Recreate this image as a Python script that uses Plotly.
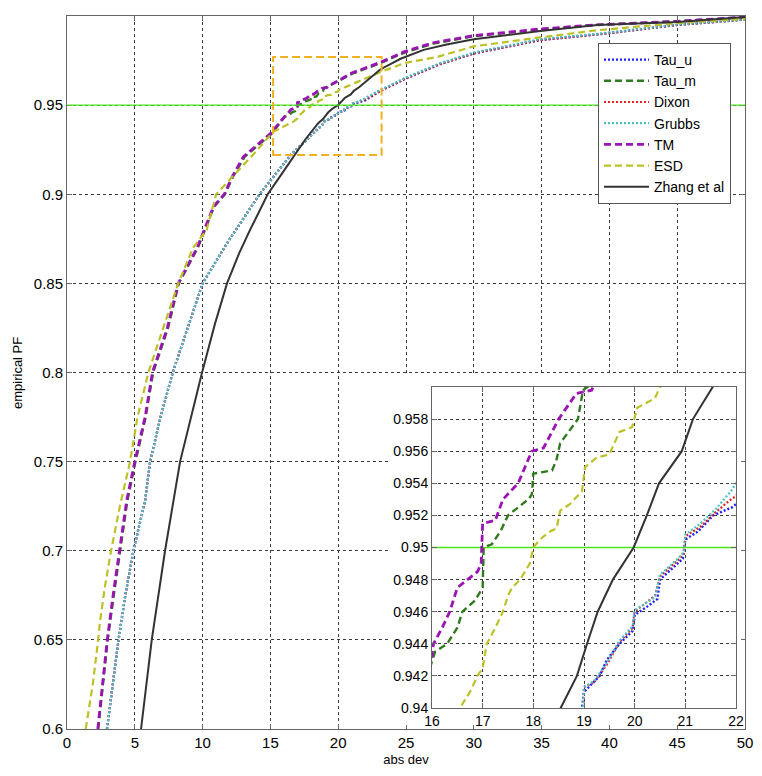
import plotly.graph_objects as go

# ---------------- data ----------------
tau_u_x = [2.95, 3.3, 3.8, 4.3, 4.9, 5.2, 5.76, 6.13, 6.9, 7.8, 9.1, 10.0, 11.8, 14.2, 16.5,
           18.96, 19.0, 19.31, 19.45, 19.7, 19.96, 20.0, 20.24, 20.45, 20.5, 20.85, 20.95, 21.0,
           21.25, 21.55, 21.92, 22.0, 23.1, 25.0, 27.5, 30.0, 34.9, 39.5, 45.0, 50.0]
tau_u_y = [0.600, 0.620, 0.650, 0.675, 0.700, 0.710, 0.728, 0.750, 0.775, 0.800, 0.830, 0.850, 0.8725, 0.900, 0.922,
           0.940, 0.941, 0.942, 0.943, 0.944, 0.9448, 0.9458, 0.9463, 0.9468, 0.948, 0.949, 0.9493, 0.9505,
           0.951, 0.952, 0.9525, 0.9527, 0.958, 0.965, 0.973, 0.979, 0.9865, 0.990, 0.995, 0.998]

dixon_x = [2.95, 3.3, 3.8, 4.3, 4.9, 5.2, 5.76, 6.13, 6.9, 7.8, 9.1, 10.0, 11.8, 14.2, 16.5,
           18.98, 19.0, 19.2, 19.45, 19.7, 19.96, 20.0, 20.4, 20.5, 20.85, 20.97, 21.0,
           21.3, 21.6, 21.9, 22.0, 23.1, 25.0, 27.5, 30.0, 34.9, 39.5, 45.0, 50.0]
dixon_y = [0.600, 0.620, 0.650, 0.675, 0.700, 0.710, 0.728, 0.750, 0.775, 0.800, 0.830, 0.850, 0.8725, 0.900, 0.922,
           0.940, 0.9413, 0.9416, 0.9427, 0.9441, 0.945, 0.946, 0.947, 0.9482, 0.9492, 0.9496, 0.9507,
           0.9513, 0.9522, 0.953, 0.9532, 0.958, 0.965, 0.973, 0.979, 0.9865, 0.990, 0.995, 0.998]

grubbs_x = [2.95, 3.3, 3.8, 4.3, 4.9, 5.2, 5.76, 6.13, 6.9, 7.8, 9.1, 10.0, 11.8, 14.2, 16.5,
            18.98, 19.0, 19.2, 19.45, 19.7, 19.96, 20.0, 20.4, 20.5, 20.85, 20.97, 21.0,
            21.3, 21.6, 21.9, 22.0, 23.1, 25.0, 27.5, 30.0, 34.9, 39.5, 45.0, 50.0]
grubbs_y = [0.600, 0.620, 0.650, 0.675, 0.700, 0.710, 0.728, 0.750, 0.775, 0.800, 0.830, 0.850, 0.8725, 0.900, 0.922,
            0.940, 0.9413, 0.9417, 0.9428, 0.9442, 0.9451, 0.9461, 0.9469, 0.9483, 0.9493, 0.9497, 0.9508,
            0.9515, 0.9524, 0.9535, 0.954, 0.9585, 0.9655, 0.9735, 0.9795, 0.987, 0.9903, 0.9952, 0.998]

tau_m_x = [2.3, 2.63, 3.0, 3.45, 3.9, 4.45, 5.05, 5.8, 6.35, 7.45, 8.25, 9.65, 10.85, 11.65, 12.25, 13.1, 15.1,
           16.06, 16.3, 16.5, 16.6, 16.85, 17.0, 17.02, 17.18, 17.35, 17.5, 17.9, 17.97, 18.0, 18.37,
           18.46, 18.53, 18.88, 18.98, 19.2, 21.0, 23.1, 24.9, 27.0, 30.0, 34.9, 39.0, 45.0, 50.0]
tau_m_y = [0.600, 0.625, 0.650, 0.675, 0.700, 0.728, 0.750, 0.775, 0.800, 0.825, 0.850, 0.870, 0.893, 0.900, 0.910, 0.921, 0.934,
           0.9435, 0.944, 0.945, 0.946, 0.9467, 0.9475, 0.950, 0.9502, 0.951, 0.952, 0.953, 0.9533, 0.9546, 0.9548,
           0.9555, 0.9565, 0.958, 0.9598, 0.9603, 0.9675, 0.9735, 0.9795, 0.9845, 0.9887, 0.9925, 0.995, 0.997, 0.9993]

tm_x = [2.27, 2.6, 2.97, 3.4, 3.85, 4.4, 5.0, 5.76, 6.3, 7.4, 8.2, 9.6, 10.8, 11.6, 12.2, 13.0, 15.0,
        16.0, 16.03, 16.2, 16.35, 16.5, 16.7, 16.9, 16.97, 17.0, 17.25, 17.4, 17.7, 17.97, 18.2, 18.5,
        18.85, 19.15, 19.25, 21.0, 23.1, 24.9, 27.0, 30.0, 34.9, 39.0, 45.0, 50.0]
tm_y = [0.600, 0.625, 0.650, 0.675, 0.700, 0.728, 0.750, 0.775, 0.800, 0.825, 0.850, 0.870, 0.893, 0.900, 0.910, 0.921, 0.934,
        0.9433, 0.944, 0.945, 0.946, 0.9475, 0.948, 0.9485, 0.949, 0.9515, 0.9517, 0.953, 0.954, 0.956, 0.9562, 0.958,
        0.9596, 0.9598, 0.9605, 0.968, 0.974, 0.980, 0.985, 0.989, 0.9927, 0.995, 0.997, 0.9994]

esd_x = [1.38, 1.9, 2.3, 2.43, 2.8, 3.25, 3.9, 4.65, 5.2, 6.0, 7.1, 8.2, 9.3, 10.3, 11.0, 13.7, 15.2,
         16.55, 16.75, 16.9, 17.0, 17.08, 17.25, 17.4, 17.5, 17.58, 17.74, 17.93, 18.0, 18.13, 18.33,
         18.46, 18.53, 18.72, 18.96, 19.02, 19.25, 19.5, 19.7, 19.95, 20.05, 20.4, 20.5,
         23.1, 24.9, 27.3, 30.0, 34.9, 39.1, 45.0, 50.0]
esd_y = [0.600, 0.625, 0.650, 0.660, 0.680, 0.700, 0.725, 0.750, 0.775, 0.800, 0.825, 0.850, 0.870, 0.880, 0.900, 0.922, 0.935,
         0.940, 0.941, 0.942, 0.9425, 0.944, 0.945, 0.946, 0.947, 0.9475, 0.948, 0.949, 0.950, 0.9505, 0.951,
         0.9512, 0.9523, 0.9527, 0.9535, 0.955, 0.9556, 0.9558, 0.9572, 0.9575, 0.9587, 0.9593, 0.960,
         0.9685, 0.9736, 0.977, 0.983, 0.988, 0.992, 0.996, 0.9985]

zhang_x = [5.46, 6.25, 7.23, 8.34, 9.96, 10.9, 11.8, 12.7, 13.5, 14.8, 15.8, 16.7, 17.6, 18.54, 18.86, 19.06,
           19.27, 19.57, 19.98, 20.24, 20.48, 20.93, 21.15, 21.54, 23.1, 24.6, 26.3, 28.0, 30.0, 34.9,
           39.1, 45.0, 50.0]
zhang_y = [0.600, 0.650, 0.700, 0.750, 0.800, 0.827, 0.850, 0.867, 0.880, 0.900, 0.911, 0.921, 0.931, 0.940, 0.942, 0.944,
           0.946, 0.948, 0.950, 0.952, 0.954, 0.956, 0.958, 0.960, 0.970, 0.976, 0.981, 0.984, 0.987, 0.9916,
           0.995, 0.9966, 0.9994]

series_names = ["Tau_u", "Tau_m", "Dixon", "Grubbs", "TM", "ESD", "Zhang et al"]

main_xticks = [0, 5, 10, 15, 20, 25, 30, 35, 40, 45, 50]
main_yticks = [0.6, 0.65, 0.7, 0.75, 0.8, 0.85, 0.9, 0.95, 1.0]
main_ytext = ["0.6", "0.65", "0.7", "0.75", "0.8", "0.85", "0.9", "0.95", "1"]
inset_xticks = [16, 17, 18, 19, 20, 21, 22]
inset_yticks = [0.94, 0.942, 0.944, 0.946, 0.948, 0.95, 0.952, 0.954, 0.956, 0.958]
inset_ytext = ["0.94", "0.942", "0.944", "0.946", "0.948", "0.95", "0.952", "0.954", "0.956", "0.958"]

threshold = 0.95
zoom_box = dict(x0=15.2, x1=23.2, y0=0.922, y1=0.977)

# ---------------- styles ----------------
styles = [
    dict(color="#1f1fff", dash="2px,2px", width=2.4),
    dict(color="#2f7a1c", dash="7px,4px", width=2.4),
    dict(color="#e32222", dash="2px,2px", width=2.2),
    dict(color="#45c4c4", dash="2px,2px", width=2.2),
    dict(color="#9b12b5", dash="7px,4px", width=2.8),
    dict(color="#bcc226", dash="7px,4px", width=2.2),
    dict(color="#333333", dash="solid", width=2.0),
]
series = [(tau_u_x, tau_u_y), (tau_m_x, tau_m_y), (dixon_x, dixon_y), (grubbs_x, grubbs_y),
          (tm_x, tm_y), (esd_x, esd_y), (zhang_x, zhang_y)]

FONT = "Arial, Liberation Sans, sans-serif"
GREEN = "#4fe51e"
fig = go.Figure()

for name, (xs, ys), st in zip(series_names, series, styles):
    fig.add_trace(go.Scatter(x=xs, y=ys, mode="lines", name=name, xaxis="x", yaxis="y",
                             line=dict(color=st["color"], dash=st["dash"], width=st["width"]),
                             hoverinfo="skip"))

# white backing panel under the inset (covers main grid)
fig.add_trace(go.Scatter(x=[0, 1, 1, 0, 0], y=[0, 0, 1, 1, 0], xaxis="x2", yaxis="y2",
                         mode="lines", fill="toself", fillcolor="white",
                         line=dict(width=0, color="white"), showlegend=False, hoverinfo="skip"))

# threshold line inside the inset, drawn as a trace so it sits above the inset grid
fig.add_trace(go.Scatter(x=[inset_xticks[0], inset_xticks[-1]], y=[threshold, threshold],
                         xaxis="x3", yaxis="y3", mode="lines",
                         line=dict(color=GREEN, width=1.6), showlegend=False, hoverinfo="skip"))

for name, (xs, ys), st in zip(series_names, series, styles):
    fig.add_trace(go.Scatter(x=xs, y=ys, mode="lines", name=name, xaxis="x3", yaxis="y3",
                             line=dict(color=st["color"], dash=st["dash"], width=st["width"]),
                             showlegend=False, hoverinfo="skip"))

# page body has an 8px margin: figure origin sits at (8, 8) in the window
OFF = 8
W, H = 762 - OFF, 776 - OFF
# target plot area in window pixels: x 67..745, y 16..729
L, R, T, B = 67 - OFF, (762 - OFF) - (745 - OFF), 16 - OFF, (776 - OFF) - (729 - OFF)
pw, ph = W - L - R, H - T - B


def px_x(p):
    return (p - OFF - L) / pw


def px_y(p):
    return (H - B - (p - OFF)) / ph


axis_common = dict(showgrid=True, gridcolor="#3a3a3a", griddash="dot", gridwidth=1,
                   ticks="inside", ticklen=5, tickcolor="#666666", showline=True,
                   linecolor="#666666", linewidth=1, mirror="ticks", zeroline=False,
                   automargin=False,
                   tickfont=dict(family=FONT, size=15, color="black"))
inset_common = {**axis_common, "tickfont": dict(family=FONT, size=14, color="black")}

fig.update_layout(
    width=W, height=H,
    margin=dict(l=L, r=R, t=T, b=B, autoexpand=False),
    paper_bgcolor="white", plot_bgcolor="white",
    font=dict(family=FONT, color="black"),
    xaxis=dict(domain=[0, 1], range=[0, 50], tickvals=main_xticks, anchor="y",
               title=dict(text="abs dev", font=dict(size=13), standoff=4), **axis_common),
    yaxis=dict(domain=[0, 1], range=[0.6, 1.0], tickvals=main_yticks, ticktext=main_ytext, anchor="x",
               **axis_common),
    xaxis2=dict(domain=[px_x(391), px_x(741)], range=[0, 1], visible=False, anchor="y2", fixedrange=True),
    yaxis2=dict(domain=[px_y(725), px_y(375)], range=[0, 1], visible=False, anchor="x2", fixedrange=True),
    xaxis3=dict(domain=[px_x(432), px_x(736)], range=[16, 22], tickvals=inset_xticks, anchor="y3",
                **inset_common),
    yaxis3=dict(domain=[px_y(708), px_y(387)], range=[0.94, 0.96], tickvals=inset_yticks,
                ticktext=inset_ytext, anchor="x3", **inset_common),
    legend=dict(x=px_x(598), y=px_y(43), xanchor="left", yanchor="top",
                bgcolor="white", bordercolor="#555555", borderwidth=1,
                font=dict(family=FONT, size=14, color="black"), itemwidth=45,
                tracegroupgap=0),
    showlegend=True,
)

fig.add_annotation(text="empirical PF", xref="paper", yref="paper", x=px_x(17), y=px_y(373),
                   textangle=-90, showarrow=False, xanchor="center", yanchor="middle",
                   font=dict(family=FONT, size=13, color="black"))

fig.add_shape(type="line", xref="x", yref="y", x0=0, x1=50, y0=threshold, y1=threshold,
              line=dict(color=GREEN, width=1.2), layer="above")
fig.add_shape(type="rect", xref="x", yref="y", **zoom_box,
              line=dict(color="#f0b020", width=2, dash="8px,4px"), layer="above")

fig.write_html("out.html")
